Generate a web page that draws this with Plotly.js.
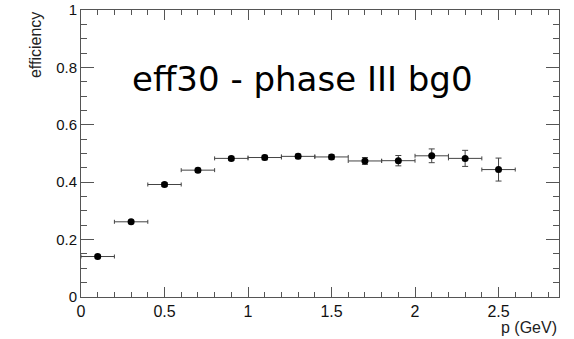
<!DOCTYPE html>
<html>
<head>
<meta charset="utf-8">
<script src="https://cdn.plot.ly/plotly-3.0.1.min.js"></script>
<style>html,body{margin:0;padding:0;background:#fff;}#chart{width:574px;height:339px;}</style>
</head>
<body>
<div id="chart"></div>
<script>
// Data
const momentum = [0.1, 0.3, 0.5, 0.7, 0.9, 1.1, 1.3, 1.5, 1.7, 1.9, 2.1, 2.3, 2.5];
const binHalfWidth = [0.1, 0.1, 0.1, 0.1, 0.1, 0.1, 0.1, 0.1, 0.1, 0.1, 0.1, 0.1, 0.1];
const efficiency = [0.141, 0.262, 0.392, 0.442, 0.483, 0.486, 0.490, 0.488, 0.474, 0.475, 0.492, 0.483, 0.444];
const efficiencyErr = [0.005, 0.006, 0.007, 0.007, 0.007, 0.008, 0.008, 0.008, 0.012, 0.018, 0.024, 0.028, 0.040];
const xTickVals = [0, 0.5, 1, 1.5, 2, 2.5];
const xTickText = ["0", "0.5", "1", "1.5", "2", "2.5"];
const yTickVals = [0, 0.2, 0.4, 0.6, 0.8, 1];
const yTickText = ["0", "0.2", "0.4", "0.6", "0.8", "1"];
const titleText = "eff30 - phase III bg0";
const xTitle = "p (GeV)";
const yTitle = "efficiency";

const axisColor = "#555555";
const trace = {
  x: momentum,
  y: efficiency,
  type: "scatter",
  mode: "markers",
  marker: {color: "#000000", size: 7},
  error_x: {type: "data", array: binHalfWidth, visible: true, color: "#444444", thickness: 1, width: 2},
  error_y: {type: "data", array: efficiencyErr, visible: true, color: "#444444", thickness: 1, width: 3},
  hoverinfo: "skip"
};

const layout = {
  width: 574, height: 339,
  margin: {l: 81, r: 15, t: 10, b: 42, pad: 0},
  paper_bgcolor: "#ffffff", plot_bgcolor: "#ffffff",
  showlegend: false,
  font: {family: "Liberation Sans, Arial, sans-serif", color: "#111111"},
  xaxis: {
    range: [0, 2.862], showgrid: false, zeroline: false,
    showline: true, linecolor: axisColor, linewidth: 1, mirror: "ticks",
    ticks: "inside", ticklen: 10, tickcolor: axisColor, tickwidth: 1,
    tickmode: "array", tickvals: xTickVals, ticktext: xTickText,
    tickfont: {size: 16, family: "Liberation Sans, Arial, sans-serif", color: "#111111"},
    minor: {dtick: 0.1, tick0: 0, ticks: "inside", ticklen: 5, tickcolor: axisColor, tickwidth: 1, showgrid: false}
  },
  yaxis: {
    range: [0, 1], showgrid: false, zeroline: false,
    showline: true, linecolor: axisColor, linewidth: 1, mirror: "ticks",
    ticks: "inside", ticklen: 13, tickcolor: axisColor, tickwidth: 1,
    tickmode: "array", tickvals: yTickVals, ticktext: yTickText,
    tickfont: {size: 15, family: "Liberation Sans, Arial, sans-serif", color: "#111111"},
    minor: {dtick: 0.05, tick0: 0, ticks: "inside", ticklen: 6, tickcolor: axisColor, tickwidth: 1, showgrid: false}
  },
  annotations: [
    {text: titleText, xref: "paper", yref: "paper", x: 0.463, y: 0.758, xanchor: "center", yanchor: "middle",
     showarrow: false, font: {family: "DejaVu Sans, sans-serif", size: 34, color: "#000000"}},
    {text: yTitle, xref: "paper", yref: "paper", x: -0.096, y: 1.0, xanchor: "center", yanchor: "top",
     textangle: -90, showarrow: false, font: {family: "Liberation Sans, Arial, sans-serif", size: 16, color: "#222222"}},
    {text: xTitle, xref: "paper", yref: "paper", x: 1.0, y: -0.108, xanchor: "right", yanchor: "middle",
     showarrow: false, font: {family: "Liberation Sans, Arial, sans-serif", size: 16, color: "#222222"}}
  ]
};

Plotly.newPlot("chart", [trace], layout, {staticPlot: true, displayModeBar: false});
</script>
</body>
</html>
